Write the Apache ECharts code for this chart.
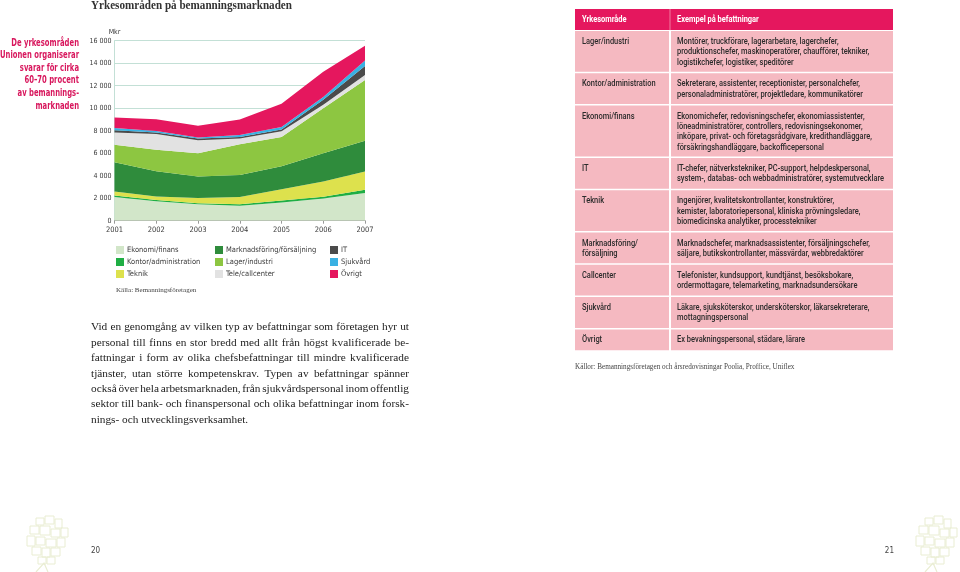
<!DOCTYPE html>
<html>
<head>
<meta charset="utf-8">
<title>Yrkesområden på bemanningsmarknaden</title>
<script src="https://cdn.jsdelivr.net/npm/echarts@6/dist/echarts.min.js"></script>
<style>
html, body { margin: 0; padding: 0; background: #fff; }
#main { width: 960px; height: 572px; }
</style>
</head>
<body>
<div id="main"></div>
<script>
// data (Mkr per yrkesområde, staplat)
var years = ['2001', '2002', '2003', '2004', '2005', '2006', '2007'];
var ekonomi = [2100, 1720, 1470, 1330, 1610, 1980, 2470];
var kontor = [150, 130, 80, 130, 190, 160, 280];
var teknik = [350, 300, 470, 640, 1000, 1350, 1630];
var marknad = [2600, 2250, 1910, 1970, 2050, 2510, 2720];
var lager = [1550, 1900, 2070, 2730, 2600, 4000, 5400];
var tele = [1100, 1400, 1150, 500, 500, 300, 450];
var it = [200, 150, 150, 150, 150, 450, 800];
var sjukvard = [200, 120, 100, 170, 240, 250, 500];
var ovrigt = [920, 1050, 1030, 1380, 2060, 2240, 1300];

var seriesNames = ['Ekonomi/finans', 'Kontor/administration', 'Teknik', 'Marknadsföring/försäljning',
    'Lager/industri', 'Tele/callcenter', 'IT', 'Sjukvård', 'Övrigt'];
var seriesData = [ekonomi, kontor, teknik, marknad, lager, tele, it, sjukvard, ovrigt];
var colors = ['#d2e6c9', '#1fae44', '#dde14d', '#2f8c3c', '#8dc641', '#e2e2e2', '#4b4b4b', '#39b1e3', '#e5175e'];

var yTicks = [0, 2000, 4000, 6000, 8000, 10000, 12000, 14000, 16000];

var title = 'Yrkesområden på bemanningsmarknaden';
var sideText = ['De yrkesområden', 'Unionen organiserar', 'svarar för cirka', '60–70 procent', 'av bemannings-', 'marknaden'];
var sourceLeft = 'Källa: Bemanningsföretagen';
var sourceRight = 'Källor: Bemanningsföretagen och årsredovisningar Poolia, Proffice, Uniflex';
var bodyLines = [
    'Vid en genomgång av vilken typ av befattningar som företagen hyr ut',
    'personal till finns en stor bredd med allt från högst kvalificerade be-',
    'fattningar i form av olika chefsbefattningar till mindre kvalificerade',
    'tjänster, utan större kompetenskrav. Typen av befattningar spänner',
    'också över hela arbetsmarknaden, från sjukvårdspersonal inom offentlig',
    'sektor till bank- och finanspersonal och olika befattningar inom forsk-',
    'nings- och utvecklingsverksamhet.'
];
var tableHead = ['Yrkesområde', 'Exempel på befattningar'];
var tableRows = [
    ['Lager/industri', ['Montörer, truckförare, lagerarbetare, lagerchefer,', 'produktionschefer, maskinoperatörer, chaufförer, tekniker,', 'logistikchefer, logistiker, speditörer']],
    ['Kontor/administration', ['Sekreterare, assistenter, receptionister, personalchefer,', 'personaladministratörer, projektledare, kommunikatörer']],
    ['Ekonomi/finans', ['Ekonomichefer, redovisningschefer, ekonomiassistenter,', 'löneadministratörer, controllers, redovisningsekonomer,', 'inköpare, privat- och företagsrådgivare, kredithandläggare,', 'försäkringshandläggare, backofficepersonal']],
    ['IT', ['IT-chefer, nätverkstekniker, PC-support, helpdeskpersonal,', 'system-, databas- och webbadministratörer, systemutvecklare']],
    ['Teknik', ['Ingenjörer, kvalitetskontrollanter, konstruktörer,', 'kemister, laboratoriepersonal, kliniska prövningsledare,', 'biomedicinska analytiker, processtekniker']],
    ['Marknadsföring/\nförsäljning', ['Marknadschefer, marknadsassistenter, försäljningschefer,', 'säljare, butikskontrollanter, mässvärdar, webbredaktörer']],
    ['Callcenter', ['Telefonister, kundsupport, kundtjänst, besöksbokare,', 'ordermottagare, telemarketing, marknadsundersökare']],
    ['Sjukvård', ['Läkare, sjuksköterskor, undersköterskor, läkarsekreterare,', 'mottagningspersonal']],
    ['Övrigt', ['Ex bevakningspersonal, städare, lärare']]
];

var serif = '"Liberation Serif", "DejaVu Serif", serif';
var narrow = '"Liberation Sans Narrow", "DejaVu Sans Condensed", sans-serif';
var cond = '"DejaVu Sans Condensed", "Liberation Sans Narrow", sans-serif';
var grotesk = 'Roboto, "Noto Sans", sans-serif';
var pink = '#d8175d';

var ctx = document.createElement('canvas').getContext('2d');
function textW(s, font) {
    ctx.font = font;
    return ctx.measureText(s).width;
}
// hur mycket texten ska tryckas ihop för att få rätt bredd
function squeeze(s, font, target) {
    return Math.min(1, target / textW(s, font));
}

function fmt(v) {
    return String(v).replace(/\B(?=(\d{3})+$)/g, ' ');
}

// justerad brödtext, ett ord i taget
function bodyText(x, y, width, lh, size) {
    var font = size + 'px ' + serif;
    var out = [];
    bodyLines.forEach(function (line, i) {
        var words = line.split(' ');
        var ty = y + i * lh;
        if (i == bodyLines.length - 1) {
            out.push({ type: 'text', x: x, y: ty, style: { text: line, font: font, fill: '#222', textVerticalAlign: 'middle' } });
            return;
        }
        var total = 0;
        words.forEach(function (w) { total += textW(w, font); });
        var gap = (width - total) / (words.length - 1);
        var cx = x;
        words.forEach(function (w) {
            out.push({ type: 'text', x: cx, y: ty, style: { text: w, font: font, fill: '#222', textVerticalAlign: 'middle' } });
            cx += textW(w, font) + gap;
        });
    });
    return out;
}

function table() {
    var out = [];
    var x0 = 575, xm = 670, x1 = 893;
    var cellFont = '500 8.5px ' + grotesk;
    var headFont = 'bold 8.5px ' + grotesk;
    var widest = 0;
    tableRows.forEach(function (r) {
        r[1].forEach(function (l) { widest = Math.max(widest, textW(l, cellFont)); });
    });
    var sx = Math.min(1, 207 / widest);
    out.push({ type: 'rect', shape: { x: x0, y: 9, width: x1 - x0, height: 21 }, style: { fill: '#e5175e' } });
    out.push({ type: 'line', shape: { x1: xm, y1: 9, x2: xm, y2: 30 }, style: { stroke: '#f07a9e', lineWidth: 1 } });
    out.push({ type: 'text', x: 582, y: 20, scaleX: sx, style: { text: tableHead[0], font: headFont, fill: '#fff', textVerticalAlign: 'middle' } });
    out.push({ type: 'text', x: 677, y: 20, scaleX: sx, style: { text: tableHead[1], font: headFont, fill: '#fff', textVerticalAlign: 'middle' } });
    var top = 31;
    tableRows.forEach(function (r) {
        var n = r[1].length;
        var h = 12.3 + n * 10;
        out.push({ type: 'rect', shape: { x: x0, y: top, width: xm - x0 - 1, height: h - 1.5 }, style: { fill: '#f5b9c1' } });
        out.push({ type: 'rect', shape: { x: xm + 1, y: top, width: x1 - xm - 1, height: h - 1.5 }, style: { fill: '#f5b9c1' } });
        out.push({ type: 'text', x: 582, y: top + 5.8, scaleX: sx, style: { text: r[0], font: cellFont, fill: '#2b2b2b', lineHeight: 10.3, textVerticalAlign: 'top' } });
        out.push({ type: 'text', x: 677, y: top + 5.8, scaleX: sx, style: { text: r[1].join('\n'), font: cellFont, fill: '#2b2b2b', lineHeight: 10.3, textVerticalAlign: 'top' } });
        top += h;
    });
    return out;
}

// blek trädsymbol i sidhörnen
function tree(ox, oy) {
    var boxes = [[14, 2, 8, 7], [23, 0, 9, 8], [33, 3, 7, 9], [8, 10, 9, 8], [18, 10, 10, 9], [29, 13, 9, 8],
        [39, 12, 7, 9], [5, 20, 8, 10], [14, 21, 9, 8], [24, 23, 10, 8], [35, 22, 8, 9], [10, 31, 9, 8],
        [20, 32, 8, 9], [29, 32, 9, 8], [16, 41, 8, 7], [25, 41, 8, 7]];
    var out = boxes.map(function (b) {
        return { type: 'rect', shape: { x: ox + b[0], y: oy + b[1], width: b[2], height: b[3] }, style: { fill: 'none', stroke: '#e9edd2', lineWidth: 1 } };
    });
    out.push({ type: 'polyline', shape: { points: [[ox + 14, oy + 56], [ox + 22, oy + 47], [ox + 26, oy + 56]] }, style: { fill: 'none', stroke: '#e9edd2', lineWidth: 1.2 } });
    return out;
}

var sideFont = 'bold 10.5px ' + cond;
var titleFont = 'bold 12.5px ' + serif;
var graphics = [
    { type: 'text', x: 91, y: 6, scaleX: squeeze(title, titleFont, 201), style: { text: title, font: titleFont, fill: '#333', textVerticalAlign: 'middle' } },
    { type: 'text', x: 79, y: 36.5, scaleX: squeeze(sideText[1], sideFont, 79), style: { text: sideText.join('\n'), font: sideFont, fill: pink, textAlign: 'right', lineHeight: 12.6, textVerticalAlign: 'top' } },
    { type: 'text', x: 116, y: 290, style: { text: sourceLeft, font: '7px ' + serif, fill: '#444', textVerticalAlign: 'middle' } },
    { type: 'text', x: 575, y: 367, style: { text: sourceRight, font: '7.2px ' + serif, fill: '#444', textVerticalAlign: 'middle' } },
    { type: 'text', x: 91, y: 551, style: { text: '20', font: '8px ' + narrow, fill: '#444', textVerticalAlign: 'middle' } },
    { type: 'text', x: 894, y: 551, style: { text: '21', font: '8px ' + narrow, fill: '#444', textAlign: 'right', textVerticalAlign: 'middle' } }
].concat(bodyText(91, 327.5, 318, 15.4, 11.3), table(), tree(22, 516), tree(911, 516));

var legendBase = {
    orient: 'vertical', top: 246, padding: 0, itemWidth: 8, itemHeight: 8, itemGap: 4, icon: 'rect',
    selectedMode: false, textStyle: { fontSize: 7.5, color: '#3a3a3a', fontFamily: narrow, padding: [0, 0, 0, -2] }
};

var option = {
    animation: false,
    grid: { left: 114.5, top: 40.7, right: 595, bottom: 351.3 },
    legend: [
        Object.assign({ left: 116, data: seriesNames.slice(0, 3) }, legendBase),
        Object.assign({ left: 215, data: seriesNames.slice(3, 6) }, legendBase),
        Object.assign({ left: 330, data: seriesNames.slice(6, 9) }, legendBase)
    ],
    xAxis: {
        type: 'category', boundaryGap: false, data: years,
        axisLine: { lineStyle: { color: '#999', width: 1 } },
        axisTick: { show: true, length: 3, lineStyle: { color: '#999' } },
        axisLabel: { fontSize: 7.5, color: '#3a3a3a', fontFamily: narrow, margin: 5 }
    },
    yAxis: {
        type: 'value', min: yTicks[0], max: yTicks[yTicks.length - 1], interval: 2000,
        name: 'Mkr', nameGap: 5, nameTextStyle: { fontSize: 7, color: '#3a3a3a', fontFamily: narrow },
        axisLine: { show: true, lineStyle: { color: '#c3e0d6' } },
        axisTick: { show: false },
        splitLine: { lineStyle: { color: '#c3e0d6', width: 1 } },
        axisLabel: { fontSize: 7, color: '#3a3a3a', fontFamily: narrow, margin: 3, formatter: fmt }
    },
    series: seriesNames.map(function (name, i) {
        return {
            name: name, type: 'line', stack: 'total', data: seriesData[i],
            symbol: 'none', smooth: false,
            itemStyle: { color: colors[i] },
            lineStyle: { width: 0 },
            areaStyle: { color: colors[i], opacity: 1 },
            z: 2
        };
    }),
    graphic: graphics
};

var myChart = echarts.init(document.getElementById('main'), null, { renderer: 'canvas' });
myChart.setOption(option);
</script>
</body>
</html>
